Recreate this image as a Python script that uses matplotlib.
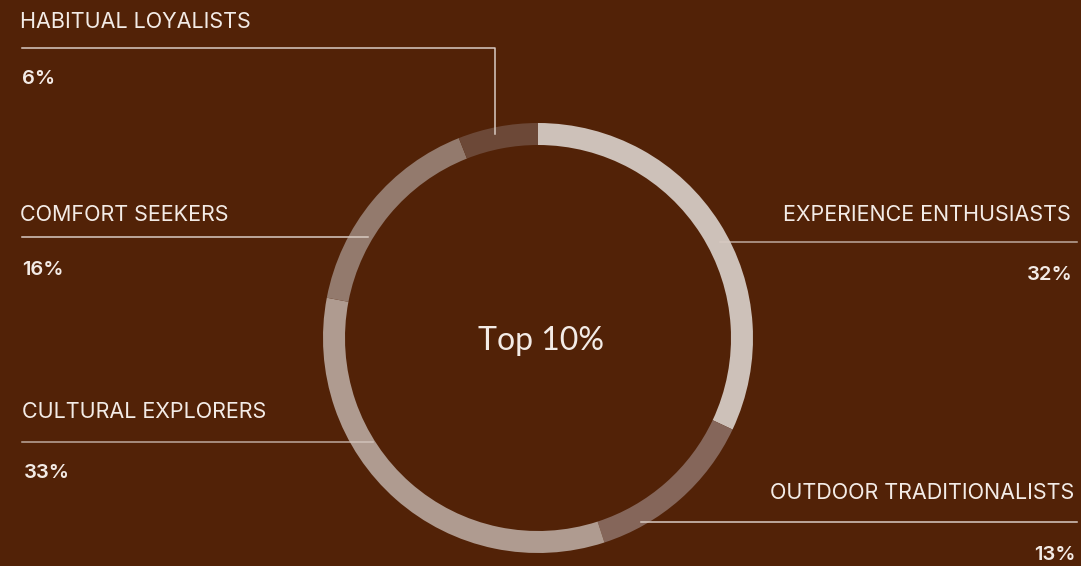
import matplotlib.pyplot as plt

# data
segmentos = ["EXPERIENCE ENTHUSIASTS", "OUTDOOR TRADITIONALISTS", "CULTURAL EXPLORERS",
             "COMFORT SEEKERS", "HABITUAL LOYALISTS"]
valores = [32, 13, 33, 16, 6]
colores = ["#cdc1b9", "#85665a", "#af9b90", "#937a6d", "#6c4837"]
centro_texto = "Top 10%"

fondo = "#522207"
blanco = "#f3ebe6"
linea = "#d9cbc3"

fig = plt.figure(figsize=(10.81, 5.66), dpi=100, facecolor=fondo)
ax = fig.add_axes([0, 0, 1, 1])
ax.set_facecolor(fondo)

# donut (y axis is inverted, so counterclockwise in data = clockwise on screen)
cx, cy, r = 538, 338, 215
ax.pie(valores, colors=colores, center=(cx, cy), radius=r, startangle=-90,
       counterclock=True, wedgeprops=dict(width=22, linewidth=0), frame=True)

ax.set_xlim(0, 1081)
ax.set_ylim(566, 0)
ax.axis("off")

ax.text(cx + 3, 341, centro_texto, ha="center", va="center", color=blanco,
        fontsize=23, family="Lato")

fuente = dict(family="Inter", color=blanco)

# label positions: x, y of name, y of percent
izq = {
    "HABITUAL LOYALISTS": (20, 22, 79),
    "COMFORT SEEKERS": (20, 215, 270),
    "CULTURAL EXPLORERS": (22, 412, 473),
}
der = {
    "EXPERIENCE ENTHUSIASTS": (1071, 215, 275),
    "OUTDOOR TRADITIONALISTS": (1074, 493, 555),
}
for nombre, v in zip(segmentos, valores):
    if nombre in izq:
        x, yn, yp = izq[nombre]
        ax.text(x, yn, nombre, ha="left", va="center", fontsize=15.5, **fuente)
        ax.text(x + 2, yp, f"{v}%", ha="left", va="center", fontsize=14.5,
                fontweight="semibold", **fuente)
    else:
        x, yn, yp = der[nombre]
        ax.text(x, yn, nombre, ha="right", va="center", fontsize=15.5, **fuente)
        ax.text(x + 2, yp, f"{v}%", ha="right", va="center", fontsize=14.5,
                fontweight="semibold", **fuente)

# leader lines
ax.plot([22, 495, 495], [48, 48, 134], color=linea, lw=1.1)
ax.plot([22, 368], [237, 237], color=linea, lw=1.1)
ax.plot([22, 373], [442, 442], color=linea, lw=1.1, alpha=0.8)
ax.plot([720, 1077], [242, 242], color=linea, lw=1.1, alpha=0.8)
ax.plot([641, 1077], [522, 522], color=linea, lw=1.1)

fig.savefig("out.png", dpi=100, facecolor=fondo)
